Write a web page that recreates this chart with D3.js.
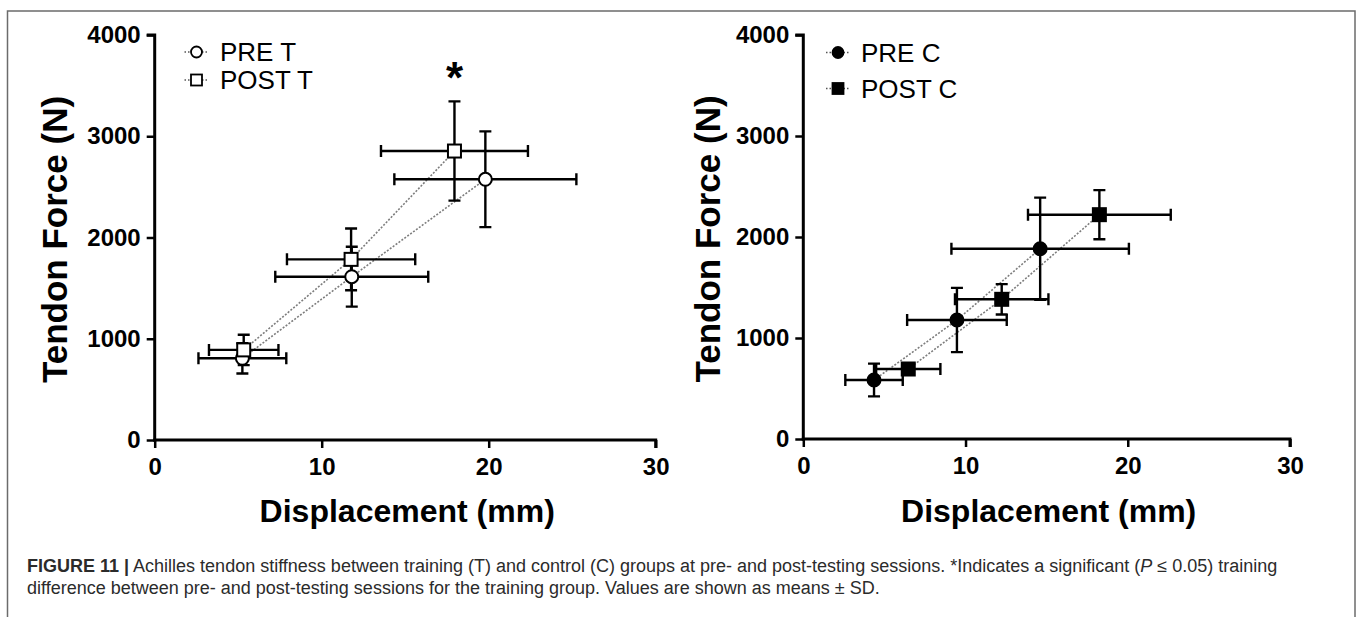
<!DOCTYPE html>
<html>
<head>
<meta charset="utf-8">
<script src="https://cdn.jsdelivr.net/npm/d3@7"></script>
<style>
  html, body { margin: 0; padding: 0; background: #fff; }
  svg { display: block; }
</style>
</head>
<body>
<svg id="fig" width="1358" height="617"></svg>
<script>
// ---------------- data ----------------
const xTicks = [0, 10, 20, 30];
const yTicks = [0, 1000, 2000, 3000, 4000];
const xTitle = "Displacement (mm)";
const yTitle = "Tendon Force (N)";

// Training group (left panel)
const preT_label = "PRE T";
const preT_x   = [5.25, 11.8, 19.8];
const preT_xsd = [2.63, 4.58, 5.45];
const preT_y   = [807, 1613, 2575];
const preT_ysd = [150, 296, 473];

const postT_label = "POST T";
const postT_x   = [5.33, 11.76, 17.95];
const postT_xsd = [2.08, 3.84, 4.4];
const postT_y   = [890, 1784, 2854];
const postT_ysd = [150, 305, 490];

// Control group (right panel)
const preC_label = "PRE C";
const preC_x   = [4.36, 9.47, 14.6];
const preC_xsd = [1.77, 3.07, 5.47];
const preC_y   = [584, 1178, 1884];
const preC_ysd = [162, 318, 506];

const postC_label = "POST C";
const postC_x   = [6.47, 12.23, 18.25];
const postC_xsd = [1.98, 2.88, 4.4];
const postC_y   = [693, 1383, 2221];
const postC_ysd = [55, 150, 243];

const sigMarkX = [17.95];   // asterisk above POST T last point
const sigMarkY = [3700];

const captionBold = "FIGURE 11 |";
const captionLine1 = " Achilles tendon stiffness between training (T) and control (C) groups at pre- and post-testing sessions. *Indicates a significant (";
const captionLine1b = " \u2264 0.05) training";
const captionLine2 = "difference between pre- and post-testing sessions for the training group. Values are shown as means \u00B1 SD.";

// ---------------- drawing ----------------
const svg = d3.select("#fig");
const FONT = "'Liberation Sans', Arial, Helvetica, sans-serif";

// figure frame
svg.append("rect")
  .attr("x", 7.5).attr("y", 11).attr("width", 1347.5).attr("height", 620)
  .attr("fill", "none").attr("stroke", "#6b6b6b").attr("stroke-width", 1.5);

function zip(xs, xsd, ys, ysd) {
  return xs.map((x, i) => ({ x: x, xsd: xsd[i], y: ys[i], ysd: ysd[i] }));
}

function panel(opts) {
  const x = d3.scaleLinear().domain([0, 30]).range(opts.xr);
  const y = d3.scaleLinear().domain([0, 4000]).range(opts.yr);
  const g = svg.append("g");

  // axes
  const ax = g.append("g").attr("transform", `translate(0,${opts.yr[0]})`)
    .call(d3.axisBottom(x).tickValues(xTicks).tickFormat(d3.format("d")).tickSize(8).tickSizeOuter(0).tickPadding(10));
  const ay = g.append("g").attr("transform", `translate(${opts.xr[0]},0)`)
    .call(d3.axisLeft(y).tickValues(yTicks).tickFormat(d3.format("d")).tickSize(8).tickSizeOuter(0).tickPadding(6));
  [ax, ay].forEach(a => {
    a.select(".domain").attr("stroke", "#000").attr("stroke-width", 3);
    a.selectAll(".tick line").attr("stroke", "#000").attr("stroke-width", 2.5);
    a.selectAll(".tick text").attr("fill", "#000")
      .style("font-family", FONT).style("font-weight", "bold").style("font-size", "24px");
  });
  // extend domain lines so they meet at the origin
  ax.select(".domain").attr("d", `M${opts.xr[0] - 1.5},0H${opts.xr[1]}V8`);
  ay.select(".domain").attr("d", `M-8,${opts.yr[1]}H0V${opts.yr[0] + 1.5}`);

  // axis titles
  g.append("text")
    .attr("x", (opts.xr[0] + opts.xr[1]) / 2 + 2).attr("y", 522)
    .attr("text-anchor", "middle")
    .style("font-family", FONT).style("font-weight", "bold").style("font-size", "32px")
    .text(xTitle);
  g.append("text")
    .attr("transform", `translate(${opts.yTitleX},${(opts.yr[0] + opts.yr[1]) / 2 + 2}) rotate(-90)`)
    .attr("text-anchor", "middle")
    .style("font-family", FONT).style("font-weight", "bold").style("font-size", "35px")
    .text(yTitle);

  // series
  opts.series.forEach(s => {
    const data = zip(s.x, s.xsd, s.y, s.ysd);
    // dotted connecting line
    g.append("path")
      .datum(data)
      .attr("fill", "none").attr("stroke", "#7d7d7d").attr("stroke-width", 1.6)
      .attr("stroke-dasharray", "2,1.6")
      .attr("d", d3.line().x(d => x(d.x)).y(d => y(d.y)));
  });
  opts.series.forEach(s => {
    const data = zip(s.x, s.xsd, s.y, s.ysd);
    const eb = g.append("g").attr("stroke", "#000").attr("stroke-width", 2.4).attr("fill", "none");
    const cap = 6;
    data.forEach(d => {
      const cx = x(d.x), cy = y(d.y);
      const x0 = x(d.x - d.xsd), x1 = x(d.x + d.xsd);
      const y0 = y(d.y - d.ysd), y1 = y(d.y + d.ysd);
      eb.append("path").attr("d",
        `M${x0},${cy}H${x1}` +
        `M${x0},${cy - cap}V${cy + cap}M${x1},${cy - cap}V${cy + cap}` +
        `M${cx},${y0}V${y1}` +
        `M${cx - cap},${y0}H${cx + cap}M${cx - cap},${y1}H${cx + cap}`);
    });
  });
  opts.series.forEach(s => {
    const data = zip(s.x, s.xsd, s.y, s.ysd);
    const fill = s.filled ? "#000" : "#fff";
    if (s.shape === "circle") {
      g.selectAll(null).data(data).enter().append("circle")
        .attr("cx", d => x(d.x)).attr("cy", d => y(d.y)).attr("r", 6.5)
        .attr("fill", fill).attr("stroke", "#000").attr("stroke-width", 2);
    } else {
      g.selectAll(null).data(data).enter().append("rect")
        .attr("x", d => x(d.x) - 6.5).attr("y", d => y(d.y) - 6.5)
        .attr("width", 13).attr("height", 13)
        .attr("fill", fill).attr("stroke", "#000").attr("stroke-width", 2);
    }
  });

  // legend
  opts.series.forEach((s, i) => {
    const ly = opts.legend.y[i];
    const lx = opts.legend.x;
    g.append("line")
      .attr("x1", lx - 12).attr("x2", lx + 12).attr("y1", ly).attr("y2", ly)
      .attr("stroke", "#555").attr("stroke-width", 1.5).attr("stroke-dasharray", "1.5,2");
    const fill = s.filled ? "#000" : "#fff";
    if (s.shape === "circle") {
      g.append("circle").attr("cx", lx).attr("cy", ly).attr("r", 5.5)
        .attr("fill", fill).attr("stroke", "#000").attr("stroke-width", 1.8);
    } else {
      g.append("rect").attr("x", lx - 5.5).attr("y", ly - 5.5).attr("width", 11).attr("height", 11)
        .attr("fill", fill).attr("stroke", "#000").attr("stroke-width", 1.8);
    }
    g.append("text")
      .attr("x", opts.legend.tx).attr("y", ly + 9)
      .style("font-family", FONT).style("font-size", "26px").attr("fill", "#000")
      .text(s.label);
  });

  if (opts.sig) {
    g.selectAll(null).data(opts.sig).enter().append("text")
      .attr("x", d => x(d[0])).attr("y", d => y(d[1]) + 28)
      .attr("text-anchor", "middle")
      .style("font-family", FONT).style("font-weight", "bold").style("font-size", "44px")
      .text("*");
  }
}

panel({
  xr: [154.7, 655.7], yr: [440, 35], yTitleX: 67,
  legend: { x: 196.5, y: [52, 80], tx: 220 },
  series: [
    { label: preT_label, x: preT_x, xsd: preT_xsd, y: preT_y, ysd: preT_ysd, shape: "circle", filled: false },
    { label: postT_label, x: postT_x, xsd: postT_xsd, y: postT_y, ysd: postT_ysd, shape: "square", filled: false }
  ],
  sig: sigMarkX.map((v, i) => [v, sigMarkY[i]])
});

panel({
  xr: [803.3, 1290], yr: [439, 35], yTitleX: 720,
  legend: { x: 838, y: [52.5, 88.5], tx: 861 },
  series: [
    { label: preC_label, x: preC_x, xsd: preC_xsd, y: preC_y, ysd: preC_ysd, shape: "circle", filled: true },
    { label: postC_label, x: postC_x, xsd: postC_xsd, y: postC_y, ysd: postC_ysd, shape: "square", filled: true }
  ]
});

// caption
const cap1 = svg.append("text").attr("x", 27).attr("y", 572)
  .style("font-family", FONT).style("font-size", "18px").attr("fill", "#2b2b2b");
cap1.append("tspan").style("font-weight", "bold").text(captionBold);
cap1.append("tspan").text(captionLine1);
cap1.append("tspan").style("font-style", "italic").text("P");
cap1.append("tspan").text(captionLine1b);
svg.append("text").attr("x", 27).attr("y", 594)
  .style("font-family", FONT).style("font-size", "18px").attr("fill", "#2b2b2b")
  .text(captionLine2);
</script>
</body>
</html>
